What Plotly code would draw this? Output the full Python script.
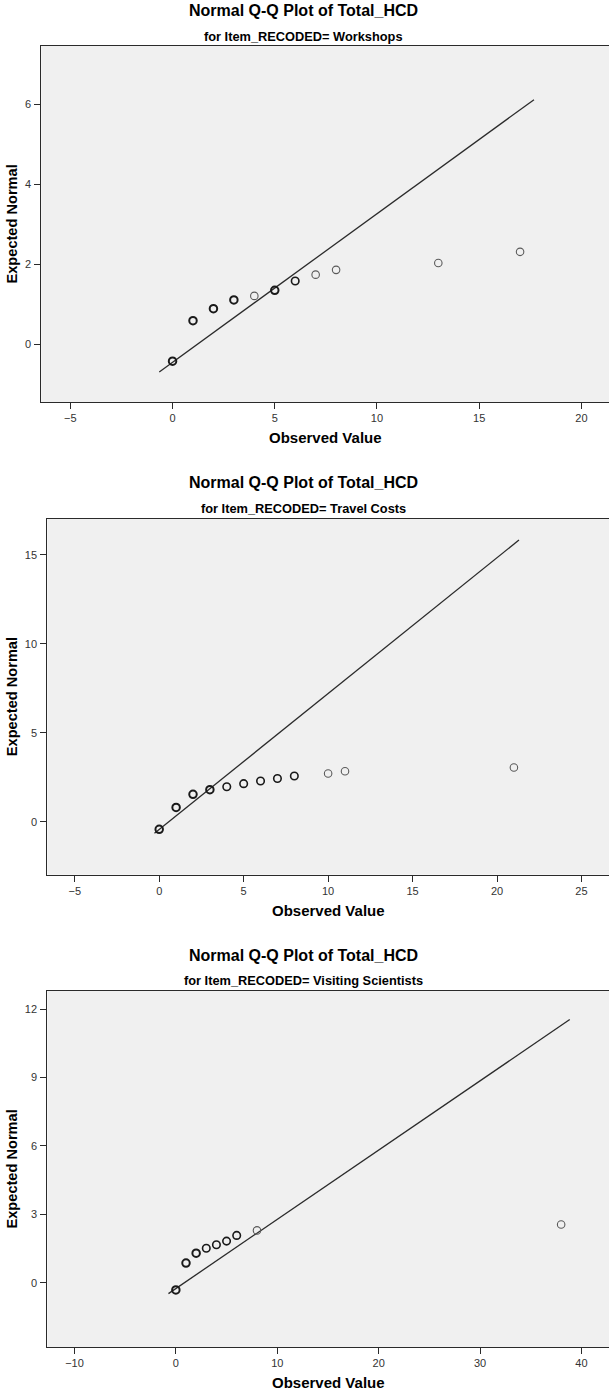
import plotly.graph_objects as go

# ---------------- data ----------------
main_title = "Normal Q-Q Plot of Total_HCD"
subtitles = ["for Item_RECODED= Workshops",
             "for Item_RECODED= Travel Costs",
             "for Item_RECODED= Visiting Scientists"]

p1_obs = [0, 1, 2, 3, 4, 5, 6, 7, 8, 13, 17]
p1_exp = [-0.42, 0.59, 0.89, 1.11, 1.21, 1.35, 1.58, 1.74, 1.86, 2.03, 2.31]
p1_ties = [12, 6, 5, 3, 1, 3, 2, 1, 1, 1, 1]
p1_line_x = [-0.65, 17.68]
p1_line_y = [-0.69, 6.11]

p2_obs = [0, 1, 2, 3, 4, 5, 6, 7, 8, 10, 11, 21]
p2_exp = [-0.43, 0.80, 1.54, 1.80, 1.97, 2.14, 2.29, 2.43, 2.57, 2.71, 2.84, 3.05]
p2_ties = [20, 10, 8, 6, 2, 2, 2, 2, 2, 1, 1, 1]
p2_line_x = [-0.28, 21.30]
p2_line_y = [-0.65, 15.84]

p3_obs = [0, 1, 2, 3, 4, 5, 6, 8, 38]
p3_exp = [-0.31, 0.87, 1.30, 1.52, 1.67, 1.83, 2.08, 2.30, 2.56]
p3_ties = [15, 6, 4, 2, 2, 2, 2, 1, 1]
p3_line_x = [-0.73, 38.85]
p3_line_y = [-0.47, 11.54]

x_ticks = [[-5, 0, 5, 10, 15, 20], [-5, 0, 5, 10, 15, 20, 25], [-10, 0, 10, 20, 30, 40]]
y_ticks = [[0, 2, 4, 6], [0, 5, 10, 15], [0, 3, 6, 9, 12]]
x_title = "Observed Value"
y_title = "Expected Normal"

# ---------------- layout helpers ----------------
W, H = 609, 1394
FONT = "Liberation Sans, Arial, sans-serif"

panels = [
    dict(obs=p1_obs, exp=p1_exp, ties=p1_ties, lx=p1_line_x, ly=p1_line_y,
         top=46.0, bottom=402.0, left=41.3, xr=[-6.42, 21.35], yr=[-1.44, 7.45],
         title_y=10.7, sub_y=36.7, xlab_y=437.7),
    dict(obs=p2_obs, exp=p2_exp, ties=p2_ties, lx=p2_line_x, ly=p2_line_y,
         top=518.7, bottom=874.7, left=47.4, xr=[-6.62, 26.63], yr=[-2.98, 17.04],
         title_y=482.7, sub_y=508.3, xlab_y=910.0),
    dict(obs=p3_obs, exp=p3_exp, ties=p3_ties, lx=p3_line_x, ly=p3_line_y,
         top=991.0, bottom=1347.0, left=47.4, xr=[-12.67, 42.72], yr=[-2.81, 12.79],
         title_y=955.0, sub_y=980.7, xlab_y=1382.7),
]


def py(px):
    return 1 - px / H


fig = go.Figure()
annotations = []
layout_axes = {}

for i, p in enumerate(panels):
    n = i + 1
    xa = "x" if n == 1 else f"x{n}"
    ya = "y" if n == 1 else f"y{n}"
    widths = [2.0 if t >= 3 else (1.6 if t == 2 else 1.1) for t in p["ties"]]
    colors = ["#1a1a1a" if t >= 2 else "#5a5a5a" for t in p["ties"]]

    fig.add_trace(go.Scatter(x=p["lx"], y=p["ly"], mode="lines",
                             line=dict(color="#2b2b2b", width=1.3),
                             xaxis=xa, yaxis=ya, showlegend=False, hoverinfo="skip"))
    fig.add_trace(go.Scatter(x=p["obs"], y=p["exp"], mode="markers",
                             marker=dict(symbol="circle-open", size=7.5, color=colors,
                                         line=dict(width=widths)),
                             xaxis=xa, yaxis=ya, showlegend=False))

    axis_common = dict(showgrid=False, zeroline=False, showline=True,
                       linecolor="#2a2a2a", linewidth=1.2, ticks="outside",
                       ticklen=6, tickwidth=1.2, tickcolor="#2a2a2a",
                       tickfont=dict(family=FONT, size=11, color="#333333"))
    xkey = "xaxis" if n == 1 else f"xaxis{n}"
    ykey = "yaxis" if n == 1 else f"yaxis{n}"
    layout_axes[xkey] = dict(axis_common, domain=[p["left"] / W, 1.0], range=p["xr"],
                             tickvals=x_ticks[i], anchor=ya, mirror=True,
                             fixedrange=True)
    layout_axes[ykey] = dict(axis_common, domain=[py(p["bottom"]), py(p["top"])],
                             range=p["yr"], tickvals=y_ticks[i], anchor=xa,
                             mirror=False, ticklabelstandoff=1, fixedrange=True)

    annotations.append(dict(text=f"<b>{main_title}</b>", x=303 / W, y=py(p["title_y"]),
                            xref="paper", yref="paper", showarrow=False,
                            xanchor="center", yanchor="middle",
                            font=dict(family=FONT, size=16, color="#000000")))
    annotations.append(dict(text=f"<b>{subtitles[i]}</b>", x=303 / W, y=py(p["sub_y"]),
                            xref="paper", yref="paper", showarrow=False,
                            xanchor="center", yanchor="middle",
                            font=dict(family=FONT, size=12.8, color="#000000")))
    annotations.append(dict(text=f"<b>{x_title}</b>", x=(p["left"] + W) / 2 / W,
                            y=py(p["xlab_y"]), xref="paper", yref="paper",
                            showarrow=False, xanchor="center", yanchor="middle",
                            font=dict(family=FONT, size=15, color="#000000")))
    annotations.append(dict(text=f"<b>{y_title}</b>", x=11.5 / W,
                            y=py((p["top"] + p["bottom"]) / 2), xref="paper",
                            yref="paper", showarrow=False, textangle=-90,
                            xanchor="center", yanchor="middle",
                            font=dict(family=FONT, size=14.6, color="#000000")))

fig.update_layout(width=W, height=H, autosize=False,
                  margin=dict(l=0, r=0, t=0, b=0),
                  paper_bgcolor="#ffffff", plot_bgcolor="#f0f0f0",
                  annotations=annotations, **layout_axes)

fig.write_html("out.html", config={"displayModeBar": False},
               post_script="document.body.style.margin='0';document.body.style.overflow='hidden';")
